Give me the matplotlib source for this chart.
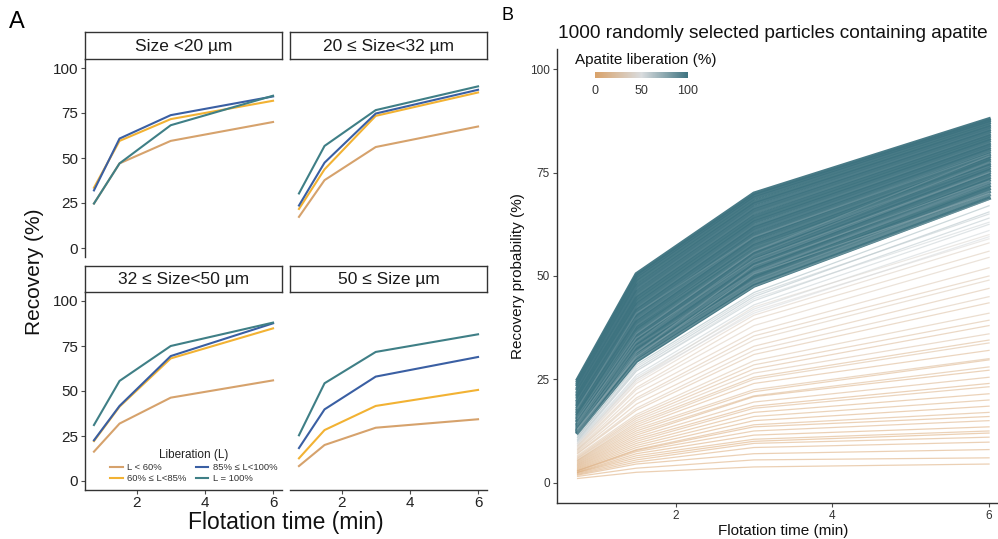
import matplotlib
matplotlib.use("Agg")
import matplotlib.pyplot as plt
import matplotlib as mpl
from matplotlib.colors import LinearSegmentedColormap, Normalize
from matplotlib.lines import Line2D

plt.rcParams['font.family'] = ['Liberation Sans', 'DejaVu Sans']

# ---------------- data: panel A ----------------
times = [0.75, 1.5, 3, 6]
facet_titles = ['Size <20 µm', '20 ≤ Size<32 µm', '32 ≤ Size<50 µm', '50 ≤ Size µm']
lib_classes = ['L < 60%', '60% ≤ L<85%', '85% ≤ L<100%', 'L = 100%']
class_colors = ['#D6A26C', '#F2B233', '#3A5FA3', '#3F7F86']

# rows: L<60, 60-85, 85-100, 100
rec_lt20 = [[24.7, 47.0, 59.5, 70.0],
            [33.5, 59.5, 71.6, 81.8],
            [32.0, 60.8, 73.8, 84.2],
            [24.7, 47.0, 68.2, 84.6]]
rec_20_32 = [[17.3, 37.7, 56.1, 67.5],
             [21.7, 43.7, 73.4, 86.4],
             [23.6, 47.4, 74.7, 87.9],
             [30.3, 56.7, 76.6, 89.8]]
rec_32_50 = [[16.3, 31.9, 46.3, 55.9],
             [22.2, 41.3, 68.1, 84.8],
             [22.6, 41.7, 69.4, 87.6],
             [31.1, 55.6, 75.0, 88.0]]
rec_ge50 = [[8.3, 20.0, 29.6, 34.3],
            [12.6, 28.3, 41.7, 50.6],
            [18.3, 39.8, 58.0, 68.9],
            [25.4, 54.3, 71.7, 81.5]]

# ---------------- data: panel B (representative particles) ----------------
b_lib = [100, 100, 100, 99, 100, 98, 100, 97, 100, 99, 100, 96, 100, 98, 100, 95, 100,
         97, 100, 99, 94, 100, 98, 100, 93, 100, 96, 100, 92, 99, 100, 95, 91, 100,
         85, 80, 75, 70, 65, 62, 58, 55, 52, 88, 82, 78, 84, 76, 80, 72,
         35, 30, 33, 28, 25, 30, 22, 27, 20, 24, 18, 15, 22, 12, 17, 10, 14, 8, 12,
         6, 10, 5, 9, 4, 7, 3, 6, 2, 5, 1, 4, 0, 3, 2, 1, 0, 0,
         42, 45, 55, 60]
b_t075 = [25.0, 24.5, 24.0, 23.6, 23.0, 22.6, 22.0, 21.5, 21.1, 20.6, 20.0, 19.6, 19.1,
          18.7, 18.2, 17.8, 17.4, 17.0, 16.6, 16.2, 15.8, 15.5, 15.1, 14.8, 14.4, 14.1,
          13.8, 13.5, 13.2, 12.9, 12.7, 12.5, 12.3, 12.1,
          13.0, 12.0, 11.5, 11.0, 10.5, 10.2, 10.0, 9.8, 9.5, 16.0, 18.0, 14.5,
          14.0, 12.5, 15.5, 13.0,
          9.0, 8.8, 8.5, 8.2, 8.0, 7.8, 7.5, 7.2, 7.0, 6.6, 6.3, 6.0, 5.8, 5.5, 5.4,
          5.2, 5.0, 4.8, 4.6, 4.4, 4.2, 4.0, 3.8, 3.6, 3.4, 3.2, 3.0, 2.9, 2.8, 2.6,
          2.5, 2.4, 2.2, 2.0, 1.8, 1.5, 1.0,
          9.5, 9.2, 10.5, 11.0]
b_t150 = [50.5, 50.0, 49.2, 48.5, 47.6, 47.0, 46.1, 45.3, 44.6, 43.8, 43.0, 42.3, 41.6,
          40.8, 40.1, 39.5, 38.8, 38.1, 37.5, 36.8, 36.1, 35.5, 34.9, 34.2, 33.6, 33.1,
          32.6, 32.0, 31.5, 31.0, 30.6, 30.2, 29.8, 29.4,
          33.0, 31.0, 29.5, 28.5, 27.5, 27.0, 26.0, 25.5, 25.0, 38.0, 41.0, 35.0,
          34.0, 31.5, 36.0, 30.5,
          24.0, 23.0, 22.5, 21.5, 20.5, 20.0, 19.0, 18.0, 17.5, 16.5, 16.0, 15.5, 15.0,
          14.5, 14.0, 13.5, 13.0, 12.5, 12.0, 11.5, 11.0, 10.5, 10.0, 9.5, 9.0, 8.5,
          8.0, 7.8, 7.5, 7.0, 6.5, 6.0, 5.5, 5.0, 4.5, 3.5, 2.5,
          25.0, 24.5, 27.0, 28.0]
b_t300 = [70.0, 69.5, 68.8, 68.0, 67.4, 66.6, 65.9, 65.2, 64.4, 63.7, 63.0, 62.2, 61.6,
          60.9, 60.1, 59.4, 58.8, 58.0, 57.3, 56.6, 55.9, 55.3, 54.6, 53.9, 53.3, 52.7,
          52.0, 51.4, 50.7, 50.1, 49.5, 48.9, 48.2, 47.6,
          51.0, 49.0, 47.5, 46.0, 45.0, 44.0, 43.0, 42.0, 41.0, 57.0, 59.5, 54.0,
          55.0, 52.5, 56.0, 50.5,
          40.5, 39.5, 38.0, 36.5, 35.5, 34.5, 33.0, 32.0, 31.0, 29.5, 28.5, 27.5, 26.5,
          25.5, 25.0, 24.0, 22.5, 22.0, 21.0, 20.8, 19.5, 18.5, 18.0, 17.0, 16.0, 15.0,
          14.0, 13.5, 12.5, 11.5, 10.5, 10.0, 9.5, 8.5, 7.0, 5.5, 3.8,
          42.5, 41.5, 44.5, 45.5]
b_t600 = [88.0, 87.6, 87.1, 86.5, 86.0, 85.4, 84.9, 84.3, 83.8, 83.2, 82.7, 82.1, 81.6,
          81.0, 80.5, 80.0, 79.4, 78.9, 78.3, 77.8, 77.2, 76.7, 76.1, 75.5, 75.0, 74.4,
          73.8, 73.2, 72.5, 71.8, 71.1, 70.4, 69.6, 68.8,
          72.0, 70.5, 68.5, 67.0, 65.5, 64.0, 62.5, 61.0, 59.5, 76.5, 79.5, 75.0,
          77.5, 73.0, 79.0, 70.0,
          58.0, 56.0, 54.5, 52.0, 50.0, 49.0, 47.0, 45.0, 43.5, 41.0, 39.3, 38.0, 36.0,
          34.5, 33.8, 32.0, 30.0, 29.7, 28.0, 27.2, 25.5, 24.0, 23.2, 21.5, 20.0, 18.5,
          17.0, 16.0, 15.0, 13.5, 12.5, 12.0, 11.0, 9.8, 8.0, 6.0, 4.5,
          60.0, 59.0, 63.0, 65.0]

# ---------------- figure ----------------
W, H = 998, 539
fig = plt.figure(figsize=(W / 100, H / 100), dpi=100)

def fx(px):
    return px / W

def fy(py):
    return 1 - py / H

def add_ax(x0, y0, x1, y1):
    return fig.add_axes([fx(x0), fy(y1), fx(x1) - fx(x0), (y1 - y0) / H])

axis_col = '#333333'
tick_col = '#4D4D4D'

facet_data = [rec_lt20, rec_20_32, rec_32_50, rec_ge50]
cols_px = [(85, 282), (290, 487)]
rows_px = [(59, 257), (292, 490)]
strip_rows = [(32, 59), (265.5, 292)]

for k in range(4):
    r, c = divmod(k, 2)
    x0, x1 = cols_px[c]
    y0, y1 = rows_px[r]
    ax = add_ax(x0, y0, x1, y1)
    for j in range(4):
        ax.plot(times, facet_data[k][j], color=class_colors[j], lw=1.5,
                solid_joinstyle='round')
    ax.set_xlim(0.4875, 6.2625)
    ax.set_ylim(-5, 105)
    ax.set_xticks([2, 4, 6])
    ax.set_yticks([0, 25, 50, 75, 100])
    for s in ['top', 'right']:
        ax.spines[s].set_visible(False)
    ax.spines['left'].set_visible(c == 0)
    ax.spines['bottom'].set_visible(r == 1)
    for s in ['left', 'bottom']:
        ax.spines[s].set_color(axis_col)
        ax.spines[s].set_linewidth(1.0)
    ax.tick_params(axis='y', left=(c == 0), labelleft=(c == 0), length=3,
                   color=tick_col, labelsize=11, labelcolor='#222222', pad=2)
    ax.tick_params(axis='x', bottom=(r == 1), labelbottom=(r == 1), length=3,
                   color=tick_col, labelsize=11, labelcolor='#222222', pad=1)
    ax.patch.set_alpha(0)
    # strip
    sy0, sy1 = strip_rows[r]
    sax = add_ax(x0, sy0, x1, sy1)
    sax.set_xticks([])
    sax.set_yticks([])
    for s in sax.spines.values():
        s.set_color('#333333')
        s.set_linewidth(1.0)
    sax.text(0.5, 0.48, facet_titles[k], ha='center', va='center', fontsize=12.5,
             color='#1A1A1A', transform=sax.transAxes)

# legend for panel A
handles = [Line2D([0], [0], color=class_colors[j], lw=1.5) for j in range(4)]
leg = fig.legend(handles, lib_classes, ncol=2, loc='center',
                 bbox_to_anchor=(fx(194), fy(466)), frameon=False,
                 fontsize=6.8, title='Liberation (L)', title_fontsize=8.5,
                 handlelength=1.3, handletextpad=0.5, columnspacing=1.0,
                 labelspacing=0.25, borderpad=0.1)
for t in leg.get_texts():
    t.set_color('#333333')
leg.get_title().set_color('#222222')

fig.text(fx(286), fy(522), 'Flotation time (min)', ha='center', va='center',
         fontsize=16.5, color='#111111')
fig.text(fx(35), fy(272), 'Recovery (%)', ha='center', va='center',
         fontsize=15, rotation=90, color='#111111')
fig.text(fx(17), fy(22), 'A', ha='center', va='center', fontsize=17)
fig.text(fx(508), fy(16), 'B', ha='center', va='center', fontsize=13)

# ---------------- panel B ----------------
cmap = LinearSegmentedColormap.from_list('lib', ['#D9A26A', '#D9DCDE', '#3E7380'])
norm = Normalize(0, 100)

axb = add_ax(557, 48.7, 1009.6, 503.3)
for i in range(len(b_lib)):
    yv = [b_t075[i], b_t150[i], b_t300[i], b_t600[i]]
    dense = b_lib[i] >= 90
    axb.plot(times, yv, color=cmap(norm(b_lib[i])),
             lw=2.6 if dense else 0.9, alpha=0.95 if dense else 0.5,
             solid_joinstyle='miter', zorder=2 if dense else 3)
axb.set_xlim(0.4875, 6.2625)
axb.set_ylim(-5, 105)
axb.set_xticks([2, 4, 6])
axb.set_yticks([0, 25, 50, 75, 100])
for s in ['top', 'right']:
    axb.spines[s].set_visible(False)
for s in ['left', 'bottom']:
    axb.spines[s].set_color(axis_col)
    axb.spines[s].set_linewidth(1.0)
axb.tick_params(length=3, color=tick_col, labelsize=8.5, labelcolor='#333333', pad=2)
axb.set_xlabel('Flotation time (min)', fontsize=11, color='#111111', labelpad=1)
axb.set_ylabel('Recovery probability (%)', fontsize=11, color='#111111', labelpad=4)

fig.text(fx(773), fy(33), '1000 randomly selected particles containing apatite',
         ha='center', va='center', fontsize=13.7, color='#111111')

# colorbar legend
cax = add_ax(595, 71.7, 688, 78.3)
cb = mpl.colorbar.ColorbarBase(cax, cmap=cmap, norm=norm, orientation='horizontal',
                               ticks=[0, 50, 100])
cb.outline.set_visible(False)
cax.tick_params(length=0, labelsize=9, labelcolor='#333333', pad=5)
fig.text(fx(575), fy(60), 'Apatite liberation (%)', ha='left', va='center',
         fontsize=11, color='#111111')

fig.savefig('out.png', dpi=100)
